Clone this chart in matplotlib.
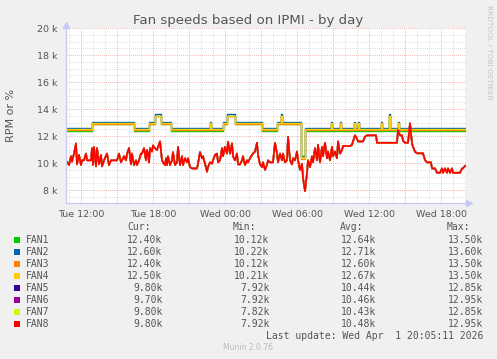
import numpy as np
import pandas as pd
import matplotlib
matplotlib.use("Agg")
import matplotlib.pyplot as plt
import matplotlib.dates as mdates
from matplotlib.patches import Rectangle
from matplotlib.ticker import MultipleLocator, FuncFormatter

W, H = 497, 359

fans = ["FAN1", "FAN2", "FAN3", "FAN4", "FAN5", "FAN6", "FAN7", "FAN8"]
colors = ["#00CC00", "#0066B3", "#FF8000", "#FFCC00",
          "#330099", "#990099", "#CCFF00", "#FF0000"]
cur = ["12.40k", "12.60k", "12.40k", "12.50k", "9.80k", "9.70k", "9.80k", "9.80k"]
mins = ["10.12k", "10.22k", "10.12k", "10.21k", "7.92k", "7.92k", "7.82k", "7.92k"]
avgs = ["12.64k", "12.71k", "12.60k", "12.67k", "10.44k", "10.46k", "10.43k", "10.48k"]
maxs = ["13.50k", "13.60k", "13.50k", "13.50k", "12.85k", "12.95k", "12.85k", "12.95k"]

# samples are 5 minutes apart, counted from the start of the window
start = pd.Timestamp("2026-03-31 10:45")
n_steps = 400

# FAN1-4 move together between a few speed levels: 0 low, 1 mid, 2 high, 3 dip
high_step = [0, 26, 68, 83, 89, 95, 105, 144, 145, 157, 161, 169, 196, 211, 215,
             216, 235, 239, 265, 266, 274, 275, 288, 289, 292, 293, 315, 316,
             323, 324, 332, 333, 400]
high_level = [0, 1, 0, 1, 2, 1, 0, 1, 0, 1, 2, 1, 0, 1, 2,
              1, 3, 0, 1, 0, 1, 0, 1, 0, 1, 0, 1, 0,
              2, 0, 1, 0, 0]
fan_levels = {
    "FAN1": [12.38, 12.9, 13.5, 10.4],
    "FAN2": [12.62, 13.05, 13.62, 10.5],
    "FAN3": [12.45, 12.9, 13.5, 10.3],
    "FAN4": [12.5, 12.97, 13.5, 10.4],
}

# FAN5-8 (nearly identical, in thousands of RPM)
low_step = [0, 1, 3, 5, 6, 8, 10, 11, 13, 15, 16, 18, 20, 21, 25, 26, 27, 28, 30, 31,
            33, 35, 36, 38, 41, 43, 45, 51, 53, 55, 56, 58, 60, 61, 63, 65, 66, 68, 70, 71,
            73, 75, 76, 78, 80, 81, 82, 83, 84, 86, 87, 89, 91, 92, 94, 96, 97, 99, 100, 101,
            102, 104, 106, 107, 109, 111, 112, 114, 116, 117, 119, 121, 122, 124, 126, 131,
            132, 134, 136, 137, 139, 141, 142, 144, 146, 147, 149, 151, 152, 154, 156, 157,
            159, 161, 162, 164, 166, 167, 169, 171, 172, 174, 176, 177, 179, 181, 182, 184,
            186, 187, 189, 191, 192, 194, 196, 197, 199, 201, 202, 204, 207, 209, 211, 212,
            214, 216, 217, 219, 221, 222, 224, 226, 227, 229, 231, 232, 234, 236, 237, 239,
            241, 242, 244, 246, 247, 249, 251, 252, 254, 256, 257, 259, 261, 262, 264, 266,
            267, 269, 271, 272, 274, 276, 277, 284, 286, 287, 289, 291, 292, 297, 299, 301,
            310, 311, 331, 332, 334, 336, 337, 339, 342, 344, 346, 347, 349, 351, 357, 359,
            361, 365, 366, 369, 371, 374, 376, 377, 379, 381, 382, 384, 386, 387, 394, 396,
            397, 399, 400]
low_rpm = [10.1, 10.1, 9.85, 10.5, 10.1, 10.7, 11.45, 9.9, 10.6, 9.85, 10.2, 10.2, 10.7, 10.2,
           10.2, 11.1, 9.85, 11.2, 9.75, 11.1, 9.9, 10.6, 9.75, 10.2, 10.7, 9.85, 10.2, 10.2,
           10.7, 10.05, 10.2, 10.5, 10.2, 10.7, 11.1, 9.9, 10.7, 9.85, 10.2, 9.85, 10.2, 10.7,
           10.7, 11.1, 10.2, 10.96, 10.7, 10.05, 11.1, 10.85, 11.3, 11.1, 10.96, 11.2, 11.6,
           10.2, 10.05, 9.85, 10.35, 9.85, 10.5, 9.85, 10.2, 10.8, 9.85, 10.05, 11.2, 9.85,
           10.5, 9.85, 10.35, 10.05, 10.35, 9.7, 9.6, 9.6, 9.95, 10.8, 10.35, 10.5, 9.95, 9.36,
           9.7, 10.05, 9.95, 10.2, 10.6, 10.7, 10.05, 10.2, 11.1, 10.5, 11.2, 10.7, 11.58, 10.7,
           11.45, 10.5, 10.2, 10.7, 9.9, 9.9, 10.2, 10.5, 9.85, 10.2, 10.05, 10.35, 10.6, 10.7,
           10.85, 11.5, 10.6, 9.9, 9.7, 10.05, 9.5, 9.85, 10.2, 10.05, 10.05, 11.5, 10.7, 10.05,
           10.7, 10.2, 10.7, 10.05, 10.2, 11.95, 10.2, 9.9, 10.35, 10.2, 10.85, 10.2, 9.5, 9.95,
           8.9, 7.92, 9.25, 10.2, 9.7, 10.5, 10.05, 11.1, 10.2, 11.35, 10.05, 11.2, 10.5, 11.5,
           10.35, 10.85, 10.2, 11.2, 10.5, 10.85, 10.35, 11.6, 10.7, 10.96, 11.26, 11.26, 11.35,
           11.6, 12.05, 11.8, 11.6, 11.6, 11.95, 12.05, 12.05, 11.5, 11.5, 12.45, 12.05, 12.05,
           11.65, 11.5, 11.5, 12.94, 11.45, 11.2, 10.84, 10.72, 10.72, 10.22, 10.05, 10.05, 9.6,
           9.6, 9.28, 9.28, 9.6, 9.28, 9.6, 9.28, 9.6, 9.28, 9.6, 9.28, 9.28, 9.6, 9.6, 9.8, 9.8]

grey = "#555555"
axis_col = "#C8C8F4"

fig = plt.figure(figsize=(W / 100, H / 100), dpi=100, facecolor="#F0F0F0")
ax = fig.add_axes([66 / W, 1 - 203 / H, 400 / W, 175 / H])
ax.set_facecolor("white")

step = pd.Timedelta(minutes=5)
high_t = [start + s * step for s in high_step]
low_t = [start + s * step for s in low_step]

for name, c in zip(fans[:4], colors[:4]):
    vals = [fan_levels[name][lv] for lv in high_level]
    ax.plot(high_t, vals, drawstyle="steps-post", color=c, lw=1.0)
for c in colors[4:]:
    ax.plot(low_t, low_rpm, color=c, lw=1.2)

ax.set_xlim(start, start + n_steps * step)
ax.set_ylim(7.04, 20)

ax.yaxis.set_major_locator(MultipleLocator(2))
ax.yaxis.set_minor_locator(MultipleLocator(0.5))
ax.yaxis.set_major_formatter(FuncFormatter(lambda v, p: f"{v:.0f} k"))

ax.xaxis.set_major_locator(mdates.HourLocator(byhour=range(0, 24, 3)))
ax.xaxis.set_minor_locator(mdates.HourLocator())


def xfmt(v, pos):
    d = mdates.num2date(v)
    return d.strftime("%a %H:%M") if d.hour % 6 == 0 else ""


ax.xaxis.set_major_formatter(FuncFormatter(xfmt))

ax.grid(which="minor", color="#D4D4D4", ls=(0, (1, 1.5)), lw=0.6)
ax.grid(which="major", color="#EE9A9A", ls=(0, (1, 1.5)), lw=0.6)
ax.set_axisbelow(True)

ax.tick_params(which="both", length=0, labelsize=6.8, labelcolor=grey)
ax.tick_params(axis="y", pad=6)
ax.tick_params(axis="x", pad=5)
for s in ["top", "right"]:
    ax.spines[s].set_visible(False)
for s in ["left", "bottom"]:
    ax.spines[s].set_color(axis_col)
    ax.spines[s].set_linewidth(0.9)
ax.plot([0], [1.015], marker="^", ms=4, color=axis_col, transform=ax.transAxes, clip_on=False)
ax.plot([1.008], [0], marker=">", ms=4, color=axis_col, transform=ax.transAxes, clip_on=False)

fig.text(248 / W, 1 - 24 / H, "Fan speeds based on IPMI - by day", ha="center",
         va="baseline", fontsize=9.6, color=grey)
fig.text(11 / W, 1 - 115 / H, "RPM or %", rotation=90, ha="center", va="center",
         fontsize=8, color=grey)
fig.text(489 / W, 1 - 5 / H, "RRDTOOL / TOBI OETIKER", rotation=270, ha="center",
         va="top", fontsize=5.3, color="#C4C4C4")

# legend table
mono = dict(family="DejaVu Sans Mono", fontsize=7, color=grey, va="center")
fig.text(127 / W, 1 - 227 / H, "Cur:", ha="left", **mono)
fig.text(233 / W, 1 - 227 / H, "Min:", ha="left", **mono)
fig.text(340 / W, 1 - 227 / H, "Avg:", ha="left", **mono)
fig.text(447 / W, 1 - 227 / H, "Max:", ha="left", **mono)
for k, name in enumerate(fans):
    y = 240 + k * 12
    fig.add_artist(Rectangle((14 / W, 1 - (y + 3) / H), 6 / W, 6 / H,
                             transform=fig.transFigure, color=colors[k], lw=0))
    fig.text(26 / W, 1 - y / H, name, ha="left", **mono)
    fig.text(162.5 / W, 1 - y / H, cur[k], ha="right", **mono)
    fig.text(269.5 / W, 1 - y / H, mins[k], ha="right", **mono)
    fig.text(376.5 / W, 1 - y / H, avgs[k], ha="right", **mono)
    fig.text(483 / W, 1 - y / H, maxs[k], ha="right", **mono)
fig.text(483 / W, 1 - 336 / H, "Last update: Wed Apr  1 20:05:11 2026", ha="right", **mono)
fig.text(248 / W, 1 - 348 / H, "Munin 2.0.76", ha="center", va="center",
         fontsize=5.5, color="#BBBBBB")

fig.savefig("out.png", dpi=100, facecolor=fig.get_facecolor())
